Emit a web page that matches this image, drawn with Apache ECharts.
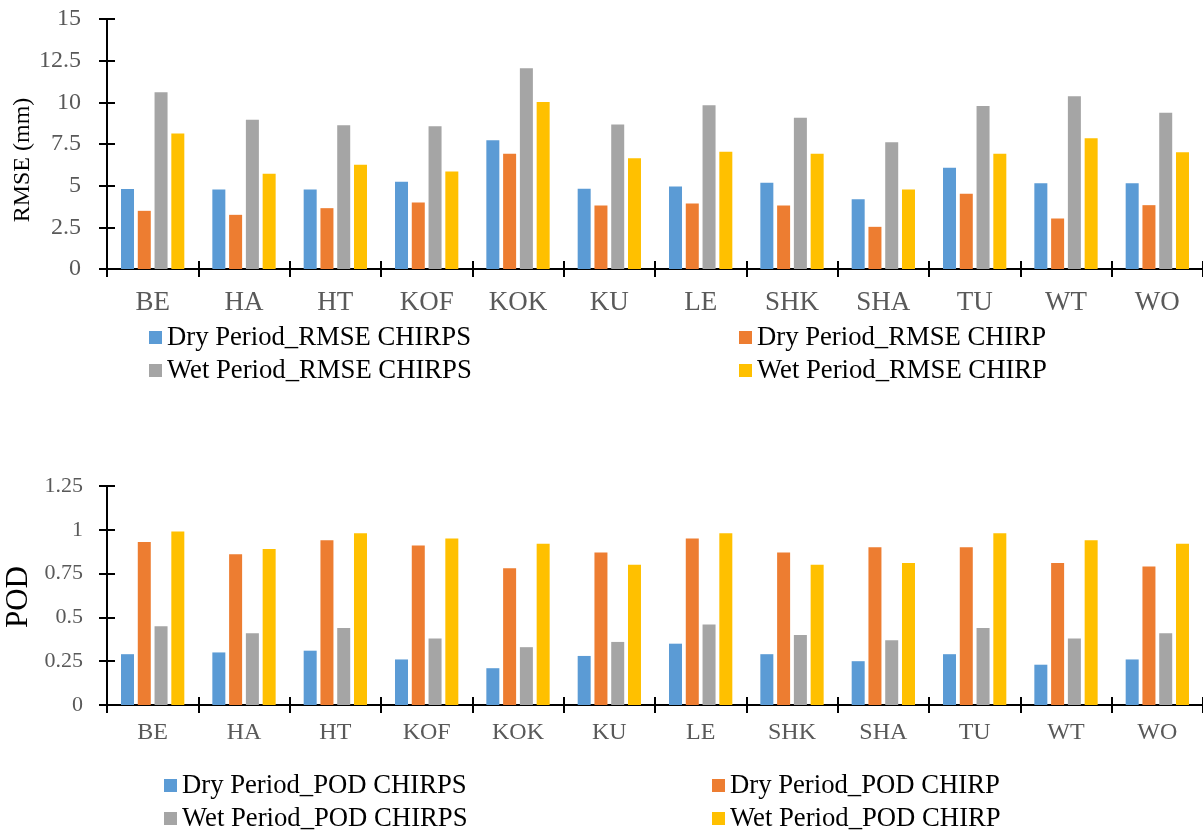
<!DOCTYPE html>
<html>
<head>
<meta charset="utf-8">
<title>RMSE and POD by station</title>
<script src="https://cdn.jsdelivr.net/npm/echarts@6/dist/echarts.min.js"></script>
<style>
  html, body { margin: 0; padding: 0; background: #ffffff; }
  #chart { width: 1203px; height: 831px; }
</style>
</head>
<body>
<div id="chart"></div>
<script>
// Stations (category tick labels)
const stations = ['BE', 'HA', 'HT', 'KOF', 'KOK', 'KU', 'LE', 'SHK', 'SHA', 'TU', 'WT', 'WO'];

// RMSE (mm)
const rmseDryChirps = [4.80, 4.77, 4.77, 5.23, 7.73, 4.81, 4.95, 5.17, 4.19, 6.07, 5.15, 5.15];
const rmseDryChirp  = [3.49, 3.25, 3.65, 3.99, 6.91, 3.81, 3.93, 3.81, 2.53, 4.51, 3.03, 3.83];
const rmseWetChirps = [10.60, 8.95, 8.63, 8.57, 12.04, 8.67, 9.83, 9.07, 7.61, 9.78, 10.37, 9.37];
const rmseWetChirp  = [8.13, 5.71, 6.25, 5.85, 10.02, 6.65, 7.03, 6.91, 4.77, 6.91, 7.85, 7.01];

// Probability of detection
const podDryChirps = [0.29, 0.30, 0.31, 0.26, 0.21, 0.28, 0.35, 0.29, 0.25, 0.29, 0.23, 0.26];
const podDryChirp  = [0.93, 0.86, 0.94, 0.91, 0.78, 0.87, 0.95, 0.87, 0.90, 0.90, 0.81, 0.79];
const podWetChirps = [0.45, 0.41, 0.44, 0.38, 0.33, 0.36, 0.46, 0.40, 0.37, 0.44, 0.38, 0.41];
const podWetChirp  = [0.99, 0.89, 0.98, 0.95, 0.92, 0.80, 0.98, 0.80, 0.81, 0.98, 0.94, 0.92];

const SERIF = "'Liberation Serif', 'Times New Roman', serif";
const COLORS = ['#5B9BD5', '#ED7D31', '#A5A5A5', '#FFC000'];
const TICK_GREY = '#595959';

const names = {
  rmse: ['Dry Period_RMSE CHIRPS', 'Dry Period_RMSE CHIRP', 'Wet Period_RMSE CHIRPS', 'Wet Period_RMSE CHIRP'],
  pod:  ['Dry Period_POD CHIRPS', 'Dry Period_POD CHIRP', 'Wet Period_POD CHIRPS', 'Wet Period_POD CHIRP']
};

const chart = echarts.init(document.getElementById('chart'), null, { renderer: 'canvas' });

const axisLineStyle = { show: true, onZero: false, lineStyle: { color: '#000', width: 2 } };

// Each axis is drawn twice: once with outward ticks and labels, once with
// inward ticks only, so the tick marks cross the axis line.
function catAxis(gridIndex, inside, fontSize, margin) {
  return {
    type: 'category',
    gridIndex: gridIndex,
    position: 'bottom',
    data: stations,
    axisLine: axisLineStyle,
    axisTick: { show: true, inside: inside, length: 8, lineStyle: { color: '#000', width: 2 } },
    axisLabel: inside ? { show: false } : {
      show: true, color: TICK_GREY, fontFamily: SERIF, fontSize: fontSize, margin: margin
    },
    splitLine: { show: false }
  };
}

function valAxis(gridIndex, inside, max, interval, fontSize, margin) {
  return {
    type: 'value',
    gridIndex: gridIndex,
    position: 'left',
    min: 0, max: max, interval: interval,
    axisLine: axisLineStyle,
    axisTick: { show: true, inside: inside, length: 8, lineStyle: { color: '#000', width: 2 } },
    axisLabel: inside ? { show: false } : {
      show: true, color: TICK_GREY, fontFamily: SERIF, fontSize: fontSize, margin: margin
    },
    splitLine: { show: false }
  };
}

function barSeries(name, data, color, xi, yi) {
  return {
    name: name, type: 'bar', data: data,
    xAxisIndex: xi, yAxisIndex: yi,
    barWidth: 13, barGap: '29%',
    itemStyle: { color: color },
    emphasis: { disabled: true }
  };
}

function legendItem(name, left, centerY) {
  return {
    data: [name], left: left, top: centerY - 13, padding: 0,
    icon: 'rect', itemWidth: 13, itemHeight: 13,
    selectedMode: false,
    textStyle: { fontFamily: SERIF, fontSize: 26.7, color: '#000' }
  };
}

const option = {
  animation: false,
  backgroundColor: '#ffffff',
  color: COLORS,
  grid: [
    { left: 107, top: 19, width: 1099, height: 250, containLabel: false },
    { left: 107, top: 486, width: 1099, height: 219, containLabel: false }
  ],
  xAxis: [
    catAxis(0, false, 27, 20),
    catAxis(0, true, 27, 20),
    catAxis(1, false, 24, 16),
    catAxis(1, true, 24, 16)
  ],
  yAxis: [
    valAxis(0, false, 15, 2.5, 24, 26),
    valAxis(0, true, 15, 2.5, 24, 26),
    valAxis(1, false, 1.25, 0.25, 22, 24),
    valAxis(1, true, 1.25, 0.25, 22, 24)
  ],
  legend: [
    legendItem(names.rmse[0], 149, 337),
    legendItem(names.rmse[1], 739, 337),
    legendItem(names.rmse[2], 149, 370),
    legendItem(names.rmse[3], 739, 370),
    legendItem(names.pod[0], 164, 785),
    legendItem(names.pod[1], 712, 785),
    legendItem(names.pod[2], 164, 818),
    legendItem(names.pod[3], 712, 818)
  ],
  graphic: [
    {
      type: 'text', x: 23, y: 160, rotation: Math.PI / 2,
      style: { text: 'RMSE (mm)', font: '24px ' + SERIF, fill: '#000', align: 'center', verticalAlign: 'middle' }
    },
    {
      type: 'text', x: 19, y: 597, rotation: Math.PI / 2,
      style: { text: 'POD', font: '31px ' + SERIF, fill: '#000', align: 'center', verticalAlign: 'middle' }
    }
  ],
  series: [
    barSeries(names.rmse[0], rmseDryChirps, COLORS[0], 0, 0),
    barSeries(names.rmse[1], rmseDryChirp,  COLORS[1], 0, 0),
    barSeries(names.rmse[2], rmseWetChirps, COLORS[2], 0, 0),
    barSeries(names.rmse[3], rmseWetChirp,  COLORS[3], 0, 0),
    barSeries(names.pod[0], podDryChirps, COLORS[0], 2, 2),
    barSeries(names.pod[1], podDryChirp,  COLORS[1], 2, 2),
    barSeries(names.pod[2], podWetChirps, COLORS[2], 2, 2),
    barSeries(names.pod[3], podWetChirp,  COLORS[3], 2, 2)
  ]
};

chart.setOption(option);
</script>
</body>
</html>
